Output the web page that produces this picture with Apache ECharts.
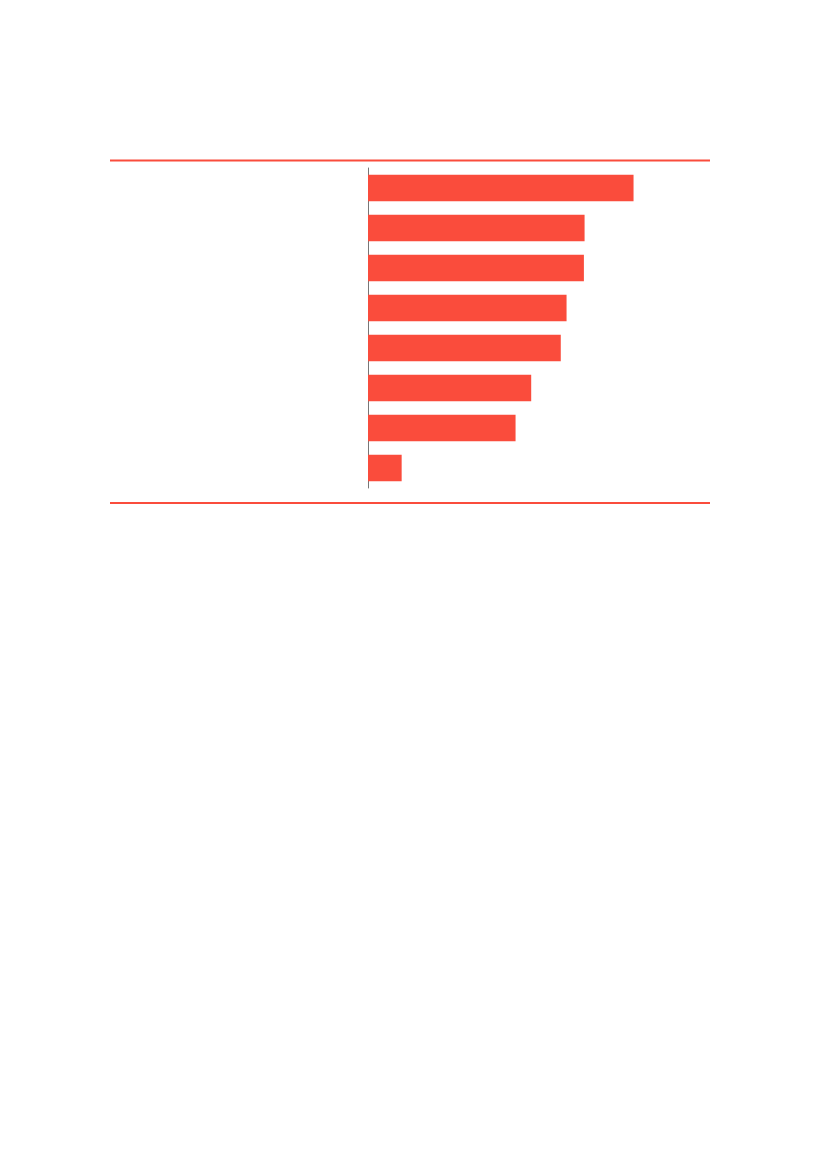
<!DOCTYPE html>
<html>
<head>
<meta charset="utf-8">
<script src="https://cdn.jsdelivr.net/npm/echarts@6/dist/echarts.min.js"></script>
<style>html,body{margin:0;padding:0;background:#fff;}#c{width:827px;height:1169px;}</style>
</head>
<body>
<div id="c"></div>
<script>
const categories = ['A', 'B', 'C', 'D', 'E', 'F', 'G', 'H'];
const values = [78.1, 63.7, 63.5, 58.4, 56.7, 48.0, 43.4, 9.9];

const chart = echarts.init(document.getElementById('c'), null, {renderer: 'canvas'});
chart.setOption({
  backgroundColor: '#ffffff',
  animation: false,
  grid: {left: 368, top: 168, width: 340, height: 320, containLabel: false},
  xAxis: {
    type: 'value', min: 0, max: 100,
    show: false
  },
  yAxis: {
    type: 'category', data: categories, inverse: true,
    axisLine: {show: true, lineStyle: {color: '#777777', width: 1}},
    axisTick: {show: false},
    axisLabel: {show: false},
    splitLine: {show: false}
  },
  series: [{
    type: 'bar',
    data: values,
    barCategoryGap: '33.3%',
    itemStyle: {color: '#fa4c3c'},
    label: {show: false}
  }],
  graphic: [
    {type: 'line', shape: {x1: 110, y1: 160.5, x2: 710, y2: 160.5}, style: {stroke: '#fa4c3c', lineWidth: 2}},
    {type: 'line', shape: {x1: 110, y1: 503, x2: 710, y2: 503}, style: {stroke: '#fa4c3c', lineWidth: 2}}
  ]
});
</script>
</body>
</html>
